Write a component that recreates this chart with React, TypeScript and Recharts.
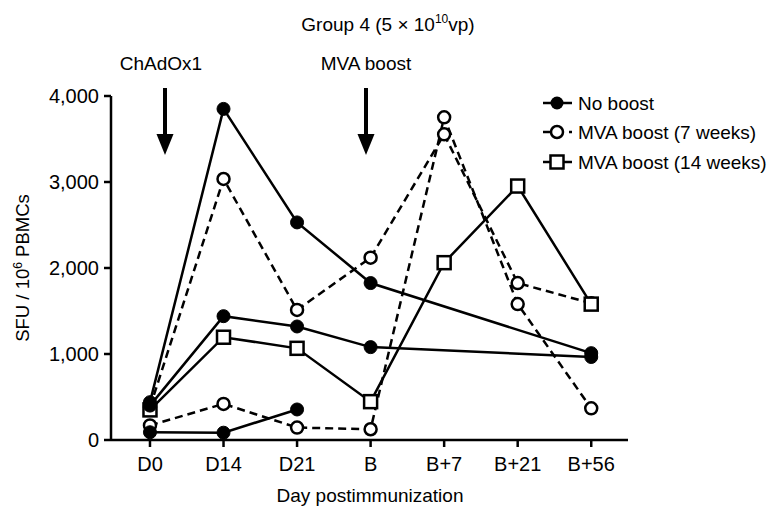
import React from 'react';
import { LineChart, Line, XAxis, YAxis } from 'recharts';

const categories = ['D0', 'D14', 'D21', 'B', 'B+7', 'B+21', 'B+56'];
const yTicks = [0, 1000, 2000, 3000, 4000];

const noBoost1 = [440, 3850, 2530, 1825, null, null, 1010];
const noBoost2 = [400, 1440, 1320, 1080, null, null, 965];
const noBoost3 = [90, 85, 355, null, null, null, null];
const mva7a = [380, 3035, 1512, 2120, 3554, 1825, 1590];
const mva7b = [170, 420, 145, 125, 3752, 1581, 368];
const mva14 = [350, 1195, 1066, 446, 2062, 2953, 1580];

const legendItems = ['No boost', 'MVA boost (7 weeks)', 'MVA boost (14 weeks)'];

const data = categories.map((c, i) => ({
  x: i,
  label: c,
  n1: noBoost1[i],
  n2: noBoost2[i],
  n3: noBoost3[i],
  a: mva7a[i],
  b: mva7b[i],
  s: mva14[i],
}));

const FONT = '"Liberation Sans", Arial, Helvetica, sans-serif';
const SW = 2.5;

const FilledDot = (p: any) => {
  if (p.cx == null || p.cy == null || p.value == null) return <g key={p.key} />;
  return <circle key={p.key} cx={p.cx} cy={p.cy} r={6.5} fill="#000" stroke="#000" strokeWidth={1} />;
};
const OpenDot = (p: any) => {
  if (p.cx == null || p.cy == null || p.value == null) return <g key={p.key} />;
  return <circle key={p.key} cx={p.cx} cy={p.cy} r={6} fill="#fff" stroke="#000" strokeWidth={SW} />;
};
const SquareDot = (p: any) => {
  if (p.cx == null || p.cy == null || p.value == null) return <g key={p.key} />;
  return <rect key={p.key} x={p.cx - 6.5} y={p.cy - 6.5} width={13} height={13} fill="#fff" stroke="#000" strokeWidth={SW} />;
};

export default function App() {
  return (
    <div style={{ position: 'absolute', left: 0, top: 0, width: 773, height: 510, background: '#fff' }}>
      <LineChart
        width={773}
        height={510}
        data={data}
        margin={{ top: 96, right: 145, bottom: 0, left: 51 }}
      >
        <XAxis
          dataKey="x"
          type="number"
          domain={[-0.53, 6.5]}
          ticks={[0, 1, 2, 3, 4, 5, 6]}
          tickFormatter={(v: number) => categories[v]}
          axisLine={{ stroke: '#000', strokeWidth: SW }}
          tickLine={{ stroke: '#000', strokeWidth: SW }}
          tickSize={7}
          tick={{ fill: '#000', fontSize: 20, fontFamily: FONT }}
          tickMargin={10}
          height={70}
        />
        <YAxis
          type="number"
          domain={[0, 4000]}
          ticks={yTicks}
          tickFormatter={(v: number) => v.toLocaleString('en-US')}
          axisLine={{ stroke: '#000', strokeWidth: SW }}
          tickLine={{ stroke: '#000', strokeWidth: SW }}
          tickSize={7}
          tick={{ fill: '#000', fontSize: 20, fontFamily: FONT }}
          tickMargin={5}
          width={60}
        />
        <Line dataKey="b" stroke="#000" strokeWidth={SW} strokeDasharray="8 5" dot={OpenDot} isAnimationActive={false} />
        <Line dataKey="a" stroke="#000" strokeWidth={SW} strokeDasharray="8 5" dot={OpenDot} isAnimationActive={false} />
        <Line dataKey="s" stroke="#000" strokeWidth={SW} dot={SquareDot} isAnimationActive={false} />
        <Line dataKey="n3" stroke="#000" strokeWidth={SW} dot={FilledDot} isAnimationActive={false} />
        <Line dataKey="n2" stroke="#000" strokeWidth={SW} dot={FilledDot} connectNulls isAnimationActive={false} />
        <Line dataKey="n1" stroke="#000" strokeWidth={SW} dot={FilledDot} connectNulls isAnimationActive={false} />
      </LineChart>
      <svg
        width={773}
        height={510}
        style={{ position: 'absolute', left: 0, top: 0, pointerEvents: 'none' }}
        fontFamily={FONT}
      >
        <text x={388} y={31} textAnchor="middle" fontSize={19} fill="#000">
          Group 4 (5 × 10<tspan dy={-8} fontSize={12}>10</tspan><tspan dy={8}>vp)</tspan>
        </text>
        <text x={161} y={70} textAnchor="middle" fontSize={19} fill="#000">ChAdOx1</text>
        <text x={366} y={70} textAnchor="middle" fontSize={19} fill="#000">MVA boost</text>
        {[165, 366].map((ax) => (
          <g key={ax}>
            <line x1={ax} y1={88} x2={ax} y2={138} stroke="#000" strokeWidth={4} />
            <polygon points={`${ax - 8.5},134 ${ax + 8.5},134 ${ax},155`} fill="#000" />
          </g>
        ))}
        <text transform="translate(29,268) rotate(-90)" textAnchor="middle" fontSize={18.5} fill="#000">
          SFU / 10<tspan dy={-7} fontSize={12}>6</tspan><tspan dy={7}> PBMCs</tspan>
        </text>
        <text x={370} y={502} textAnchor="middle" fontSize={19} fill="#000">Day postimmunization</text>
        {legendItems.map((t, i) => {
          const y = [103, 132, 162][i];
          return (
            <g key={t}>
              <line x1={543} x2={572} y1={y} y2={y} stroke="#000" strokeWidth={SW} strokeDasharray={i === 1 ? '8 5' : undefined} />
              {i === 0 && <circle cx={557} cy={y} r={6.5} fill="#000" />}
              {i === 1 && <circle cx={557} cy={y} r={6} fill="#fff" stroke="#000" strokeWidth={SW} />}
              {i === 2 && <rect x={550.5} y={y - 6.5} width={13} height={13} fill="#fff" stroke="#000" strokeWidth={SW} />}
              <text x={578} y={y + 7} fontSize={19} fill="#000">{t}</text>
            </g>
          );
        })}
      </svg>
    </div>
  );
}
